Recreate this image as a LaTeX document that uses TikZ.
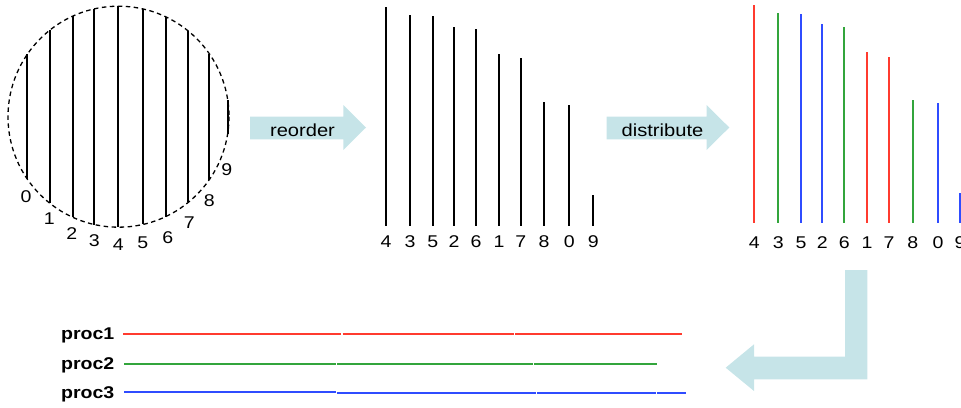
\documentclass[tikz,border=0pt]{standalone}
\usepackage{fontspec}
\setmainfont{Liberation Sans}
\newfontfamily\lab[FakeStretch=1.15]{Liberation Sans}
\definecolor{pred}{HTML}{FF3B2F}
\definecolor{pgreen}{HTML}{33A53C}
\definecolor{pblue}{HTML}{2F4CFF}
\definecolor{arrowfill}{HTML}{C6E4E8}
\begin{document}
\begin{tikzpicture}[x=1pt,y=-1pt,
  bar/.style={line width=2pt},
  digit/.style={font=\lab\fontsize{17}{20}\selectfont, inner sep=0pt},
  arrowtext/.style={font=\lab\fontsize{17.5}{20}\selectfont, inner sep=0pt, anchor=base},
  bigarrow/.style={fill=arrowfill, draw=none},
  proclab/.style={font=\lab\bfseries\fontsize{17}{20}\selectfont, inner sep=0pt, anchor=base east},
  procline/.style={line width=2pt}
]
\useasboundingbox (0,0) rectangle (961,407);

% dashed circle with chords
\draw[dash pattern=on 4.5pt off 3.5pt, line width=1.3pt] (118.5,116.7) circle[radius=110.5];
\foreach \x/\l/\lx/\ly in {27.3/0/26/197, 50/1/49.3/218.3, 72.7/2/71.7/233.3, 94.3/3/94.3/241,
  118.3/4/118.3/244.3, 143.3/5/142.7/242.3, 165.7/6/167.7/237.3, 188.3/7/189.3/222.7,
  209.3/8/209.3/201, 227.7/9/226.7/169.3}{
  \pgfmathsetmacro\h{sqrt(12210.25-(\x-118.5)*(\x-118.5))}
  \draw[bar] (\x,{116.7-\h}) -- (\x,{116.7+\h});
  \node[digit] (c\l) at (\lx,\ly) {\l};
}

% reorder arrow
\fill[bigarrow] (250,116.7) -- (343.3,116.7) -- (343.3,105) -- (366,127.5) -- (343.3,150)
  -- (343.3,139.3) -- (250,139.3) -- cycle;
\node[arrowtext] (reorder) at (302.5,136.7) {reorder};

% sorted bars
\foreach \x/\t/\l in {386/7/4, 410/15/3, 432.7/16/5, 454/27/2, 476/29/6, 499/54/1,
  520.7/58/7, 544/102/8, 569.3/105/0, 593.3/195/9}{
  \draw[bar] (\x,\t) -- (\x,226);
  \node[digit] (s\l) at (\x,242) {\l};
}

% distribute arrow
\fill[bigarrow] (606.7,116.7) -- (706.5,116.7) -- (706.5,105) -- (729.3,127.5) -- (706.5,150)
  -- (706.5,139.3) -- (606.7,139.3) -- cycle;
\node[arrowtext] (distribute) at (662.5,136.7) {distribute};

% coloured bars
\foreach \x/\t/\l/\c in {754.3/5/4/pred, 778.3/13/3/pgreen, 801/14/5/pblue, 822.3/24/2/pblue,
  844.3/27/6/pgreen, 867/52/1/pred, 889/57/7/pred, 912.7/100/8/pgreen, 938/103/0/pblue,
  960/193/9/pblue}{
  \draw[bar, \c] (\x,\t) -- (\x,223);
  \node[digit] (d\l) at (\x,243) {\l};
}

% return arrow
\fill[bigarrow] (845,270) -- (867.3,270) -- (867.3,379.3) -- (754,379.3) -- (754,391)
  -- (725.7,367.7) -- (754,344.3) -- (754,356.7) -- (845,356.7) -- cycle;

% process lines
\node[proclab] (p1) at (114.5,339.5) {proc1};
\node[proclab] (p2) at (114.5,369.3) {proc2};
\node[proclab] (p3) at (114.5,398.3) {proc3};

\draw[procline, pred] (123,334.3) -- (341.2,334.3);
\draw[procline, pred] (342.6,334.3) -- (514,334.3);
\draw[procline, pred] (515.4,334.3) -- (682,334.3);

\draw[procline, pgreen] (124.3,363.6) -- (335.5,363.6);
\draw[procline, pgreen] (336.9,363.6) -- (532.5,363.6);
\draw[procline, pgreen] (533.9,363.6) -- (657.3,363.6);

\draw[procline, pblue] (124,392.3) -- (335.5,392.3);
\draw[procline, pblue] (336.5,393.1) -- (536,393.1);
\draw[procline, pblue] (537.2,392.8) -- (655.6,392.8);
\draw[procline, pblue] (656.8,392.8) -- (686,392.8);
\end{tikzpicture}
\end{document}
